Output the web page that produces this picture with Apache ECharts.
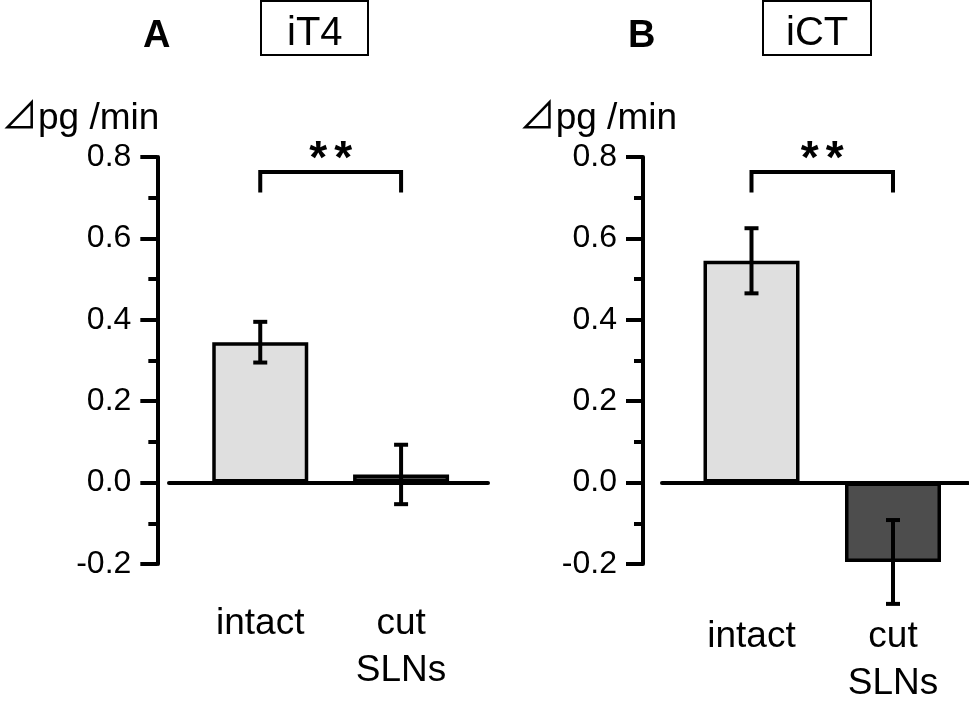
<!DOCTYPE html>
<html>
<head>
<meta charset="utf-8">
<script src="https://cdn.jsdelivr.net/npm/echarts@6/dist/echarts.min.js"></script>
<style>
html,body{margin:0;padding:0;background:#fff;}
#c{width:969px;height:707px;}
</style>
</head>
<body>
<div id="c"></div>
<script>
// ---- data ----
const categories = ['intact', 'cut\nSLNs'];
const panelLetters = ['A', 'B'];
const panelTitles = ['iT4', 'iCT'];
const valuesA = [0.345, 0.02];
const errorsA = [0.05, 0.073];
const valuesB = [0.545, -0.195];
const errorsB = [0.08, 0.103];
const significance = ['**', '**'];
const yTicks = [-0.2, 0.0, 0.2, 0.4, 0.6, 0.8];
const yName = '⊿pg /min';

const FONT = '"Liberation Sans", Arial, sans-serif';
const NAMEFONT = '"Liberation Sans", "Noto Sans CJK JP", sans-serif';
const LIGHT = '#dfdfdf';
const DARK = '#4d4d4d';
const LW = 4;

const chart = echarts.init(document.getElementById('c'), null, {renderer: 'canvas'});

function errRender(params, api) {
  const x = api.value(0), v = api.value(1), e = api.value(2);
  const top = api.coord([x, v + e]);
  const bot = api.coord([x, v - e]);
  const hw = 7;
  const st = {stroke: '#000', lineWidth: LW, fill: null};
  return {type: 'group', children: [
    {type: 'line', shape: {x1: top[0], y1: top[1], x2: bot[0], y2: bot[1]}, style: st},
    {type: 'line', shape: {x1: top[0] - hw, y1: top[1], x2: top[0] + hw, y2: top[1]}, style: st},
    {type: 'line', shape: {x1: bot[0] - hw, y1: bot[1], x2: bot[0] + hw, y2: bot[1]}, style: st}
  ]};
}

const bracketLevel = 0.763, bracketDrop = 0.713, starLevel = 0.791;
function bracketRender(params, api) {
  const a = api.value(0), b = api.value(1);
  const p1 = api.coord([a, bracketLevel]);
  const p2 = api.coord([b, bracketLevel]);
  const q1 = api.coord([a, bracketDrop]);
  const q2 = api.coord([b, bracketDrop]);
  const sy = api.coord([a, starLevel])[1];
  const mid = (p1[0] + p2[0]) / 2;
  const st = {stroke: '#000', lineWidth: LW, fill: null};
  const chars = significance[params.dataIndex].split('');
  const step = 25;
  const children = [{type: 'polyline', shape: {points: [q1, p1, p2, q2]}, style: st}];
  chars.forEach((ch, k) => {
    children.push({type: 'text', x: mid + (k - (chars.length - 1) / 2) * step, y: sy,
      style: {text: ch, fill: '#000', font: 'bold 46px ' + FONT, align: 'center', verticalAlign: 'middle'}});
  });
  return {type: 'group', children};
}

const panels = [
  {vals: valuesA, errs: errorsA, left: 185.5, right: 497.5, yOff: 32.5, zl: 169, zr: 481, labMargin: 36, namePadR: -2},
  {vals: valuesB, errs: errorsB, left: 680.75, right: 5.25, yOff: 37.75, zl: 662, zr: 1, labMargin: 49, namePadR: -34}
];

const grid = [], xAxis = [], yAxis = [], series = [], title = [];
const gTop = 157, gBottom = 143;
const titleLeft = [[143, 261], [628, 763]];
const titlePad = [[13, 26, 1, 26], [13, 23, 1, 23]];

panels.forEach((p, i) => {
  const gi = i * 2;
  grid.push({left: p.left, right: p.right, top: gTop, bottom: gBottom});
  grid.push({left: p.zl, right: p.zr, top: gTop, bottom: gBottom});

  xAxis.push({
    type: 'category', gridIndex: gi, data: categories,
    axisLine: {show: false, onZero: false}, axisTick: {show: false},
    axisLabel: {color: '#000', fontSize: 37, fontFamily: FONT, lineHeight: 47, margin: p.labMargin, interval: 0}
  });
  xAxis.push({
    type: 'category', gridIndex: gi + 1, data: categories,
    axisLine: {show: true, onZero: true, lineStyle: {color: '#000', width: LW}},
    axisTick: {show: false}, axisLabel: {show: false}
  });

  yAxis.push({
    type: 'value', gridIndex: gi, min: yTicks[0], max: yTicks[yTicks.length - 1], interval: 0.2,
    offset: p.yOff,
    name: yName, nameLocation: 'end', nameGap: 38,
    nameTextStyle: {color: '#000', fontSize: 37, fontFamily: NAMEFONT, align: 'right', verticalAlign: 'middle', padding: [0, p.namePadR, 0, 0]},
    axisLine: {show: true, lineStyle: {color: '#000', width: LW}},
    axisTick: {show: true, inside: false, length: 17, lineStyle: {color: '#000', width: LW}},
    minorTick: {show: true, splitNumber: 2, length: 9, lineStyle: {color: '#000', width: LW}},
    splitLine: {show: false}, minorSplitLine: {show: false},
    axisLabel: {color: '#000', fontSize: 32, fontFamily: FONT, margin: 26, formatter: v => v.toFixed(1)}
  });
  yAxis.push({
    type: 'value', gridIndex: gi + 1, min: yTicks[0], max: yTicks[yTicks.length - 1], show: false
  });

  series.push({
    type: 'bar', xAxisIndex: gi, yAxisIndex: gi, barWidth: 96, z: 3,
    data: p.vals.map((v, k) => ({value: v, itemStyle: {color: k === 0 ? LIGHT : DARK}})),
    itemStyle: {borderColor: '#000', borderWidth: 3.5},
    emphasis: {disabled: true}, animation: false
  });
  series.push({
    type: 'custom', xAxisIndex: gi, yAxisIndex: gi, z: 5, renderItem: errRender, animation: false,
    data: p.vals.map((v, k) => [k, v, p.errs[k]])
  });
  series.push({
    type: 'custom', xAxisIndex: gi, yAxisIndex: gi, z: 5, renderItem: bracketRender, animation: false,
    data: [[0, 1]]
  });

  title.push({text: panelLetters[i], left: titleLeft[i][0], top: 18, padding: 0,
    textStyle: {fontSize: 38, fontWeight: 'bold', color: '#000', fontFamily: FONT}});
  title.push({text: panelTitles[i], left: titleLeft[i][1], top: 1, padding: titlePad[i],
    borderColor: '#000', borderWidth: 2,
    textStyle: {fontSize: 40, fontWeight: 'normal', color: '#000', fontFamily: FONT}});
});

chart.setOption({
  animation: false,
  backgroundColor: '#fff',
  textStyle: {fontFamily: FONT},
  title, grid, xAxis, yAxis, series
});
</script>
</body>
</html>
